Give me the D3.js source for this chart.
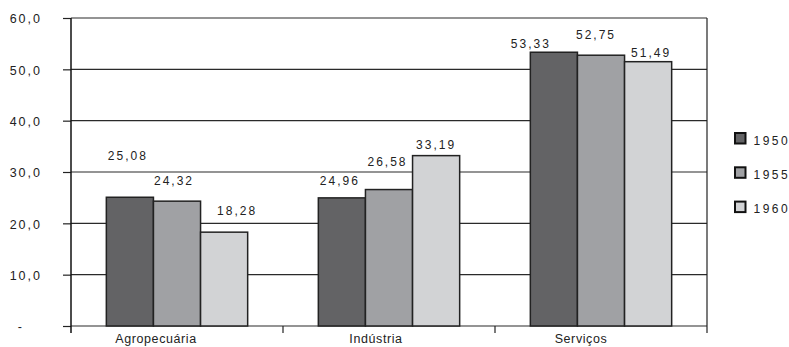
<!DOCTYPE html>
<html>
<head>
<meta charset="utf-8">
<script src="https://cdn.jsdelivr.net/npm/d3@7"></script>
<style>
  html, body { margin: 0; padding: 0; background: #fff; }
  svg { display: block; font-family: "Liberation Sans", Arial, sans-serif; }
</style>
</head>
<body>
<svg id="chart" width="789" height="347"></svg>
<script>
// Sector shares of the economy (%), by year
const categories = ["Agropecuária", "Indústria", "Serviços"];
const years = ["1950", "1955", "1960"];
const values1950 = [25.08, 24.96, 53.33];
const values1955 = [24.32, 26.58, 52.75];
const values1960 = [18.28, 33.19, 51.49];
const yTicks = [0, 10, 20, 30, 40, 50, 60];

const seriesValues = [values1950, values1955, values1960];
const colors = ["#636365", "#a0a1a4", "#d2d3d5"];

// Hand placement of value labels (px offsets from each bar's top centre),
// indexed [year][category]
const labelDx = [[-2, -2, -23], [-3, -1.5, -5], [13, 0, 3]];
const labelDy = [[-37, -13, -4.5], [-16, -23.5, -16], [-17, -6.5, -5]];
// Category label nudges
const catDx = [-21, -13, -20];

const margin = { left: 71, right: 82, top: 18, bottom: 21 };
const W = 789, H = 347;
const x0 = margin.left, x1 = W - margin.right;
const yTop = margin.top, yBot = H - margin.bottom;

const svg = d3.select("#chart");

const x = d3.scaleBand().domain(categories).range([x0, x1]).paddingInner(0).paddingOuter(0);
const xs = d3.scaleBand().domain(years).range([0, x.bandwidth()]).paddingInner(0).paddingOuter(0.75);
const y = d3.scaleLinear().domain([0, 60]).range([yBot, yTop]);

const fmt = v => v === 0 ? "-" : d3.format(".1f")(v).replace(".", ",");

// Horizontal grid lines with left ticks
const yAxis = svg.append("g")
  .attr("transform", `translate(${x0},0)`)
  .call(d3.axisLeft(y).tickValues(yTicks).tickSize(8).tickPadding(21).tickFormat(fmt));
yAxis.select(".domain").remove();
yAxis.selectAll(".tick line").attr("stroke", "#222").attr("stroke-width", 1.2);
yAxis.selectAll(".tick text")
  .attr("fill", "#222")
  .style("font-size", "12.5px")
  .style("letter-spacing", "2px")
  .attr("dy", "0.38em")
  .attr("x", d => d === 0 ? -47 : -29);

svg.append("g").selectAll("line.grid")
  .data(yTicks)
  .join("line")
  .attr("class", "grid")
  .attr("x1", x0).attr("x2", x1)
  .attr("y1", d => y(d)).attr("y2", d => y(d))
  .attr("stroke", "#2a2a2a").attr("stroke-width", 1.2);

// Bars
const groups = svg.append("g").selectAll("g")
  .data(categories)
  .join("g")
  .attr("transform", d => `translate(${x(d)},0)`);

groups.selectAll("rect")
  .data((c, ci) => years.map((yr, si) => ({ yr, si, ci, v: seriesValues[si][ci] })))
  .join("rect")
  .attr("x", d => xs(d.yr))
  .attr("width", xs.bandwidth())
  .attr("y", d => y(d.v))
  .attr("height", d => y(0) - y(d.v))
  .attr("fill", d => colors[d.si])
  .attr("stroke", "#222")
  .attr("stroke-width", 1.5);

// Value labels
groups.selectAll("text.val")
  .data((c, ci) => years.map((yr, si) => ({ yr, si, ci, v: seriesValues[si][ci] })))
  .join("text")
  .attr("class", "val")
  .attr("x", d => xs(d.yr) + xs.bandwidth() / 2 + labelDx[d.si][d.ci])
  .attr("y", d => y(d.v) + labelDy[d.si][d.ci])
  .attr("text-anchor", "middle")
  .attr("fill", "#222")
  .style("font-size", "12px")
  .style("letter-spacing", "2px")
  .text(d => d3.format(".2f")(d.v).replace(".", ","));

// Frame: left axis, right border, category separators
svg.append("line")
  .attr("x1", x0).attr("x2", x0).attr("y1", yTop).attr("y2", yBot + 7)
  .attr("stroke", "#111").attr("stroke-width", 1.5);
svg.append("line")
  .attr("x1", x1).attr("x2", x1).attr("y1", yTop).attr("y2", yBot + 7)
  .attr("stroke", "#222").attr("stroke-width", 1.2);
svg.append("g").selectAll("line")
  .data(categories.slice(1))
  .join("line")
  .attr("x1", d => x(d)).attr("x2", d => x(d))
  .attr("y1", yBot).attr("y2", yBot + 7)
  .attr("stroke", "#222").attr("stroke-width", 1.2);

// Category labels
svg.append("g").selectAll("text")
  .data(categories)
  .join("text")
  .attr("x", (d, i) => x(d) + x.bandwidth() / 2 + catDx[i])
  .attr("y", yBot + 17)
  .attr("text-anchor", "middle")
  .attr("fill", "#222")
  .style("font-size", "12.5px")
  .style("letter-spacing", "0.6px")
  .text(d => d);

// Legend
const legend = svg.append("g").attr("transform", "translate(735,133)");
const li = legend.selectAll("g")
  .data(years)
  .join("g")
  .attr("transform", (d, i) => `translate(0,${i * 34.3})`);
li.append("rect")
  .attr("width", 10.5).attr("height", 10.5)
  .attr("fill", (d, i) => colors[i])
  .attr("stroke", "#111").attr("stroke-width", 2);
li.append("text")
  .attr("x", 18.5).attr("y", 11.5)
  .attr("fill", "#222")
  .style("font-size", "12px")
  .style("letter-spacing", "2.5px")
  .text(d => d);
</script>
</body>
</html>
